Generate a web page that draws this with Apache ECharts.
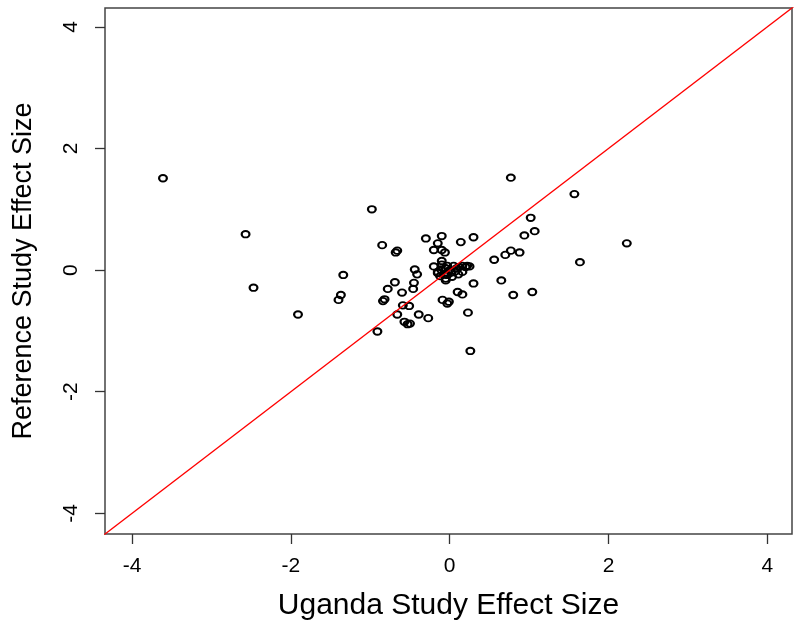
<!DOCTYPE html>
<html>
<head>
<meta charset="utf-8">
<script src="https://cdn.jsdelivr.net/npm/echarts@6/dist/echarts.min.js"></script>
<style>
html,body{margin:0;padding:0;background:#fff;}
#chart{width:800px;height:627px;}
</style>
</head>
<body>
<div id="chart"></div>
<script>
// Uganda study effect size (x) vs reference study effect size (y)
var ugandaEffect = [
  -3.61, -2.57, -2.47, -1.91, -0.98, 0.77, 1.57, 2.23, 1.64, 0.26,
  -0.91, -0.85, -0.66, -0.68, -0.30, -0.10, -0.15, -0.20, -0.10, -0.06,
  -0.10, -1.34, -0.44, -0.41, 0.14, 0.30, 1.02, 1.07, 0.94, 0.88,
  0.77, 0.70, 0.56, 0.65, 0.80, 1.04, -1.37, -1.40, -0.84, -0.82,
  -0.78, -0.69, -0.60, -0.45, -0.46, -0.59, -0.51, -0.66, -0.39, -0.27,
  -0.57, -0.53, -0.50, -0.09, -0.03, -0.01, 0.30, 0.10, 0.16, 0.23,
  -0.05, -0.15, -0.11, -0.03, 0.05, 0.16, 0.22, -0.15, -0.07, 0.16,
  -0.03, 0.03, -0.05, -0.20, 0.09, 0.00, -0.10, 0.11,
  0.20, 0.12, -0.05, 0.02, -0.12, 0.07, 0.25
];
var referenceEffect = [
  1.51, 0.59, -0.29, -0.73, 1.00, 1.52, 1.25, 0.44, 0.13, -1.33,
  -1.01, 0.41, 0.32, 0.29, 0.52, 0.56, 0.44, 0.33, 0.33, 0.29,
  0.15, -0.08, 0.01, -0.07, 0.46, 0.54, 0.86, 0.64, 0.57, 0.29,
  0.32, 0.25, 0.17, -0.17, -0.41, -0.36, -0.41, -0.49, -0.51, -0.48,
  -0.31, -0.20, -0.37, -0.21, -0.31, -0.58, -0.59, -0.73, -0.73, -0.79,
  -0.85, -0.89, -0.88, -0.49, -0.55, -0.52, -0.22, -0.36, -0.40, -0.70,
  -0.17, -0.03, 0.01, 0.07, 0.07, 0.07, 0.07, -0.05, -0.07, -0.03,
  -0.08, -0.11, -0.14, 0.06, 0.03, 0.00, 0.09, -0.07,
  0.05, 0.05, 0.03, -0.04, -0.10, -0.02, 0.06
];
var tickValues = [-4, -2, 0, 2, 4];
var identityLine = [[-5, -5], [5, 5]];

var xMin = -4.34, xMax = 4.31, yMin = -4.34, yMax = 4.31;

var points = ugandaEffect.map(function (x, i) { return [x, referenceEffect[i]]; });

var font = '"Liberation Sans", Arial, sans-serif';
// open ring marker (outer clockwise, inner counter-clockwise -> hole)
var ringSymbol = 'path://M0,-5A5,5,0,1,1,0,5A5,5,0,1,1,0,-5ZM0,-2.75A2.75,2.75,0,1,0,0,2.75A2.75,2.75,0,1,0,0,-2.75Z';

var chart = echarts.init(document.getElementById('chart'), null, {renderer: 'canvas'});
chart.setOption({
  animation: false,
  backgroundColor: '#ffffff',
  grid: {
    left: 105, top: 8, right: 8, bottom: 93,
    show: true, borderColor: '#444', borderWidth: 1.5, backgroundColor: 'transparent'
  },
  xAxis: {
    type: 'value', min: xMin, max: xMax,
    name: 'Uganda Study Effect Size', nameLocation: 'middle', nameGap: 57,
    nameTextStyle: {fontFamily: font, fontSize: 30, color: '#000'},
    axisLine: {show: false, onZero: false},
    axisTick: {show: true, inside: false, length: 10, customValues: tickValues,
      lineStyle: {color: '#333', width: 1.3}},
    axisLabel: {show: true, customValues: tickValues, margin: 22,
      fontFamily: font, fontSize: 21, color: '#000',
      formatter: function (v) { return String(v); }},
    splitLine: {show: false}
  },
  yAxis: {
    type: 'value', min: yMin, max: yMax,
    name: 'Reference Study Effect Size', nameLocation: 'middle', nameGap: 68,
    nameTextStyle: {fontFamily: font, fontSize: 27, color: '#000'},
    axisLine: {show: false, onZero: false},
    axisTick: {show: true, inside: false, length: 10, customValues: tickValues,
      lineStyle: {color: '#333', width: 1.3}},
    axisLabel: {show: true, customValues: tickValues, margin: 23, rotate: 90,
      fontFamily: font, fontSize: 21, color: '#000',
      formatter: function (v) { return String(v); }},
    splitLine: {show: false}
  },
  series: [
    {
      type: 'scatter',
      data: points,
      symbol: ringSymbol,
      symbolSize: [10, 8.3],
      symbolKeepAspect: false,
      itemStyle: {color: '#000', borderWidth: 0, opacity: 1},
      silent: true,
      z: 2
    },
    {
      type: 'line',
      data: identityLine,
      showSymbol: false,
      clip: true,
      lineStyle: {color: '#ff0000', width: 1.4},
      silent: true,
      z: 3
    }
  ]
});
</script>
</body>
</html>
